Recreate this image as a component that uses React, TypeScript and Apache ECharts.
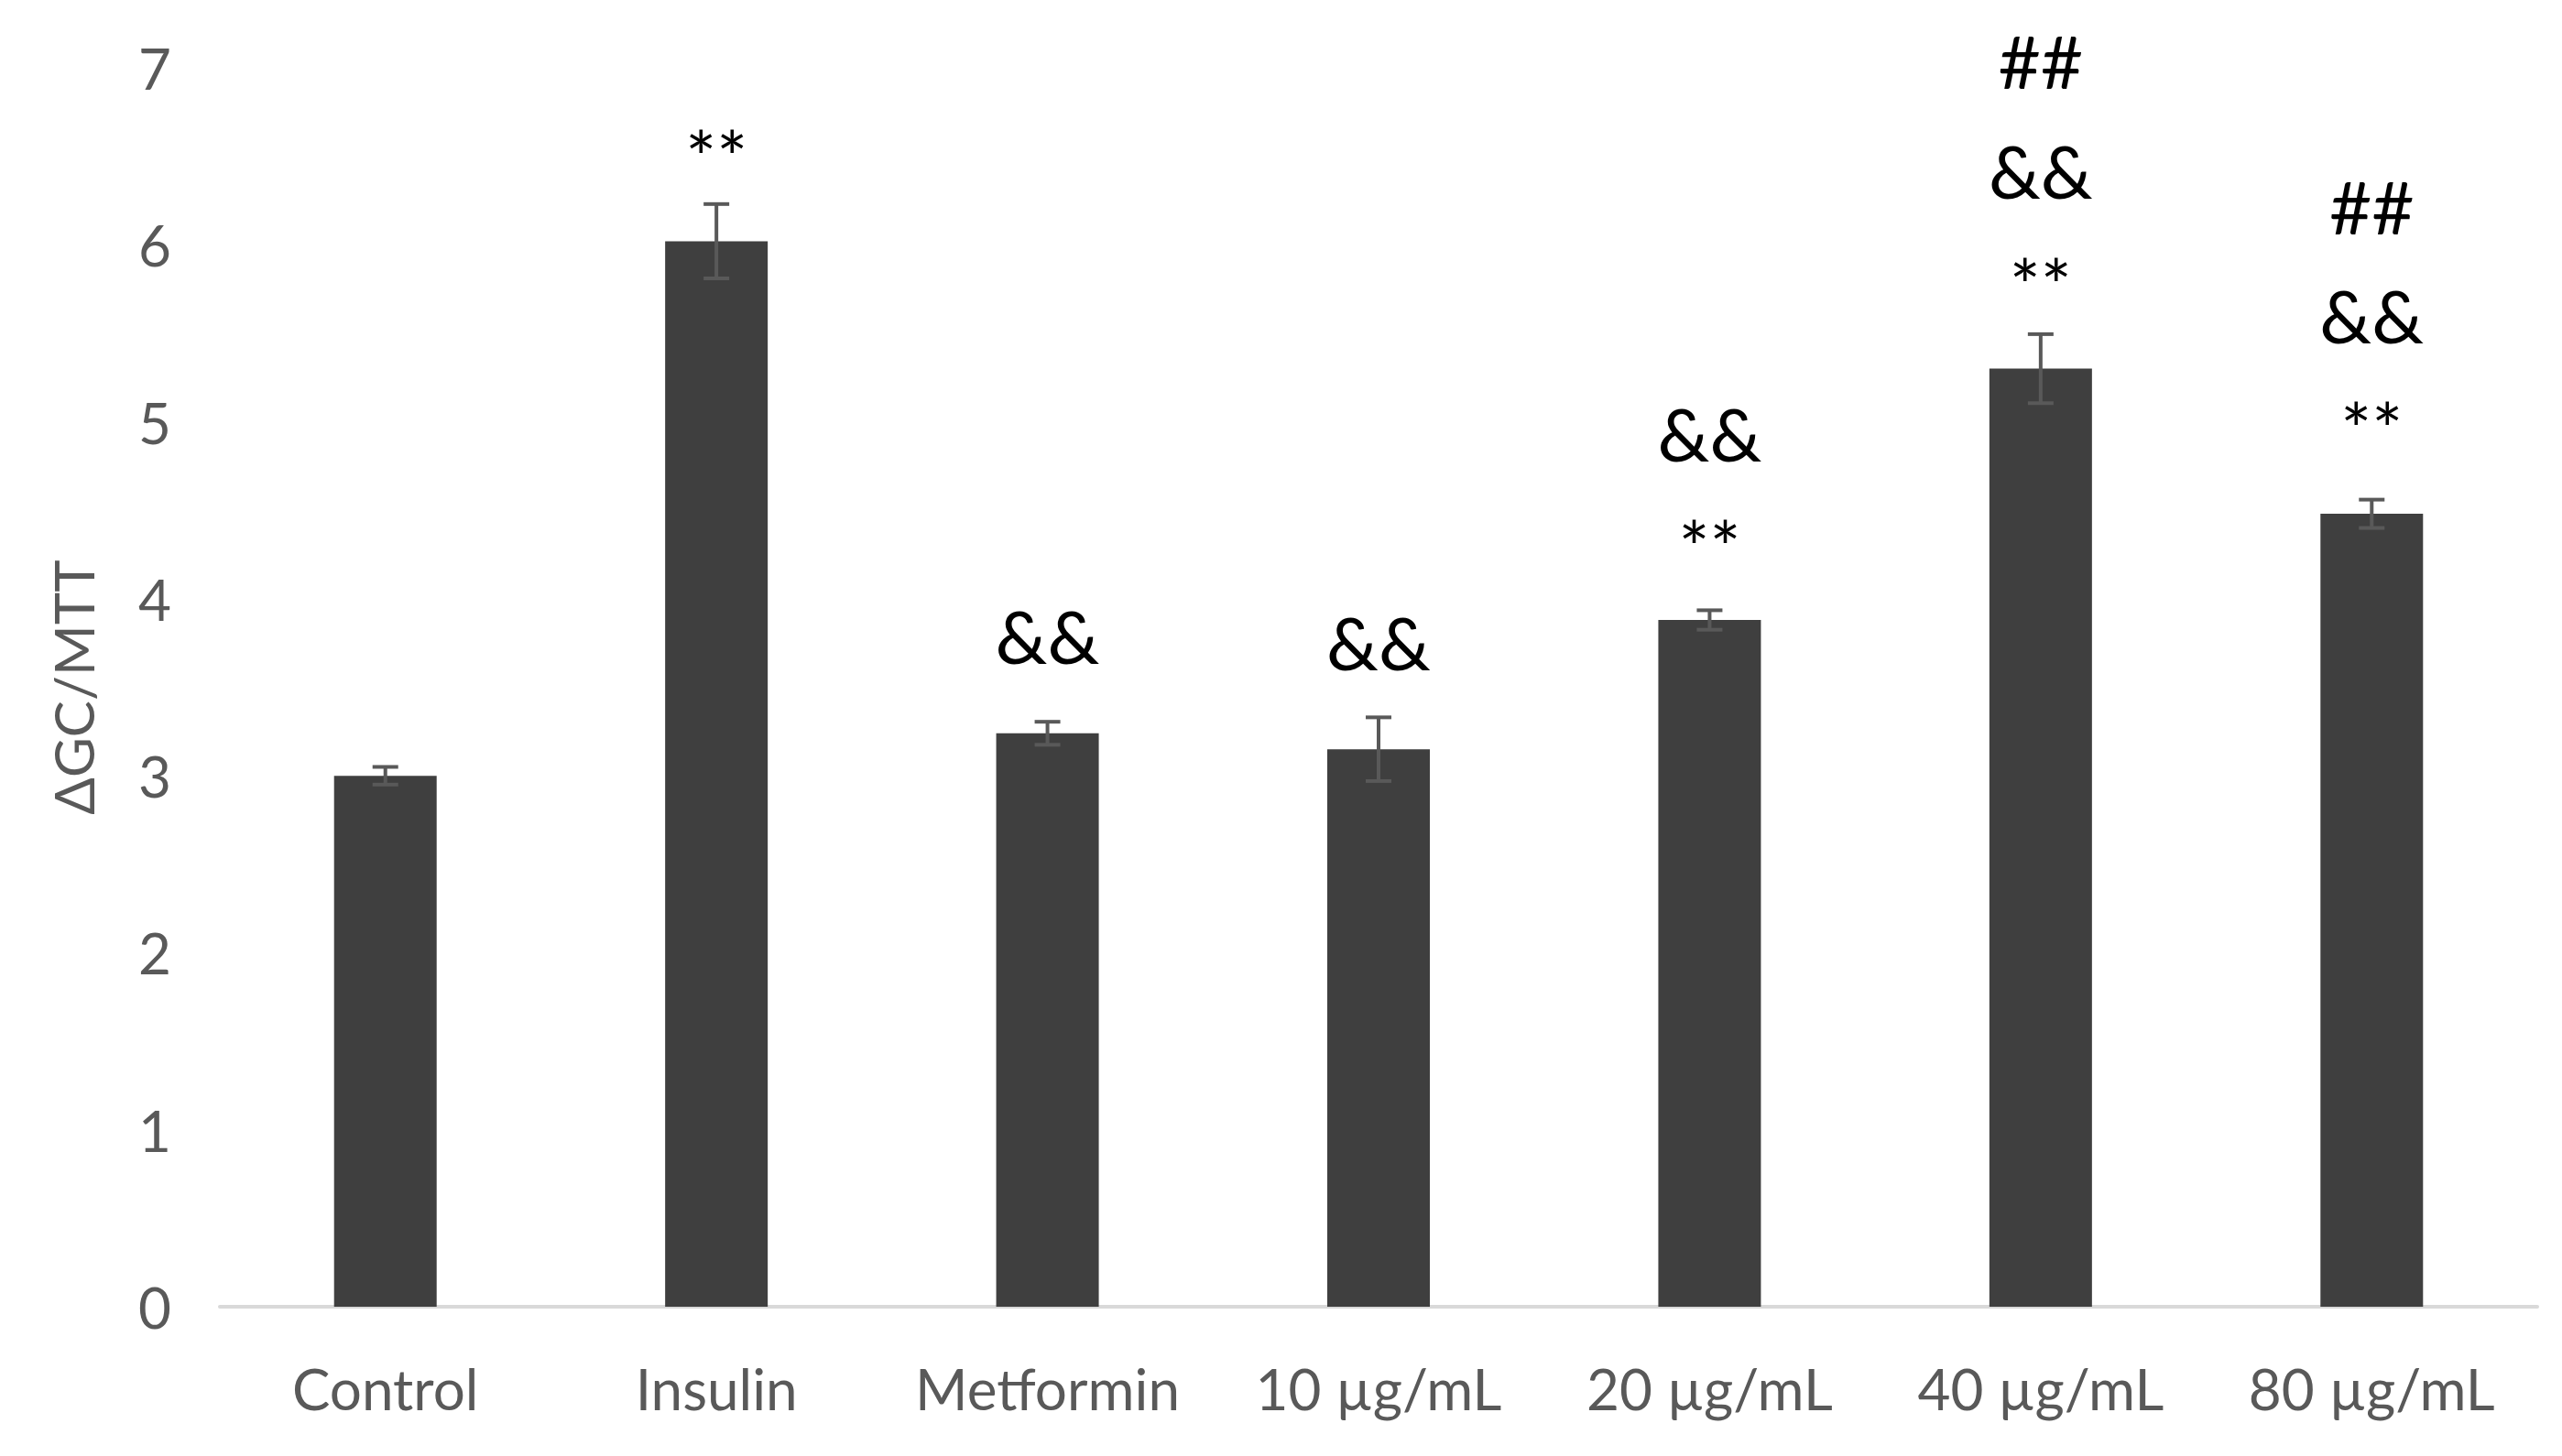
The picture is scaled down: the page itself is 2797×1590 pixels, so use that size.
import React, { useEffect, useRef } from "react";
import * as echarts from "echarts";

const categories = ["Control", "Insulin", "Metformin", "10 µg/mL", "20 µg/mL", "40 µg/mL", "80 µg/mL"];
const means = [3.0, 6.02, 3.24, 3.15, 3.88, 5.3, 4.48];
const errors = [0.05, 0.21, 0.065, 0.18, 0.055, 0.195, 0.08];
const yTicks = [0, 1, 2, 3, 4, 5, 6, 7];
const yAxisName = "ΔGC/MTT";
// significance marks: [category index, vertical position in data units, mark]
const marks: [number, number, string][] = [
  [1, 6.588, "**"],
  [2, 3.792, "&&"],
  [3, 3.758, "&&"],
  [4, 4.935, "&&"],
  [4, 4.382, "**"],
  [5, 7.041, "##"],
  [5, 6.42, "&&"],
  [5, 5.861, "**"],
  [6, 6.221, "##"],
  [6, 5.603, "&&"],
  [6, 5.047, "**"],
];

export default function App() {
  const ref = useRef<HTMLDivElement>(null);
  useEffect(() => {
    if (!ref.current) return;
    const chart = echarts.init(ref.current, null, { renderer: "svg" });
    const font = "Lato, 'Open Sans', sans-serif";
    chart.setOption({
      animation: false,
      backgroundColor: "#ffffff",
      grid: { left: 240, right: 27, top: 74, bottom: 163 },
      xAxis: {
        type: "category",
        data: categories,
        axisLine: { show: true, lineStyle: { color: "#d9d9d9", width: 4 } },
        axisTick: { show: false },
        axisLabel: { color: "#595959", fontSize: 62, fontFamily: font, margin: 58, interval: 0 },
      },
      yAxis: {
        type: "value",
        min: yTicks[0],
        max: yTicks[yTicks.length - 1],
        interval: 1,
        splitLine: { show: false },
        axisLine: { show: false },
        axisTick: { show: false },
        axisLabel: { color: "#595959", fontSize: 62, fontFamily: font, margin: 53 },
        name: yAxisName,
        nameLocation: "middle",
        nameGap: 130,
        nameTextStyle: { color: "#595959", fontSize: 60, fontFamily: font },
      },
      series: [
        {
          type: "bar",
          data: means,
          barWidth: 112,
          itemStyle: { color: "#3f3f3f" },
          z: 2,
        },
        {
          type: "custom",
          z: 3,
          clip: false,
          data: means.map((m, i) => [i, m - errors[i], m + errors[i]]),
          renderItem: (params: any, api: any) => {
            const i = api.value(0);
            const lo = api.coord([i, api.value(1)]);
            const hi = api.coord([i, api.value(2)]);
            const hw = 14;
            const st = { stroke: "#595959", lineWidth: 4 };
            return {
              type: "group",
              children: [
                { type: "line", shape: { x1: hi[0], y1: hi[1], x2: lo[0], y2: lo[1] }, style: st },
                { type: "line", shape: { x1: hi[0] - hw, y1: hi[1], x2: hi[0] + hw, y2: hi[1] }, style: st },
                { type: "line", shape: { x1: lo[0] - hw, y1: lo[1], x2: lo[0] + hw, y2: lo[1] }, style: st },
              ],
            };
          },
        },
        {
          type: "custom",
          z: 4,
          clip: false,
          data: marks.map((m) => [m[0], m[1], m[2]]),
          dimensions: ["x", "y", { name: "t", type: "ordinal" }],
          renderItem: (params: any, api: any) => {
            const idx = params.dataIndex;
            const mk = marks[idx];
            const p = api.coord([mk[0], mk[1]]);
            const isStar = mk[2] === "**";
            return {
              type: "text",
              x: p[0],
              y: p[1] + (isStar ? 16 : 0),
              style: {
                text: mk[2],
                fill: "#000000",
                fontSize: 80,
                fontFamily: font,
                align: "center",
                verticalAlign: "middle",
              },
            };
          },
        },
      ],
    });
    return () => chart.dispose();
  }, []);
  return (
    <div
      ref={ref}
      style={{ position: "fixed", left: 0, top: 0, width: 2797, height: 1590, background: "#fff" }}
    />
  );
}
